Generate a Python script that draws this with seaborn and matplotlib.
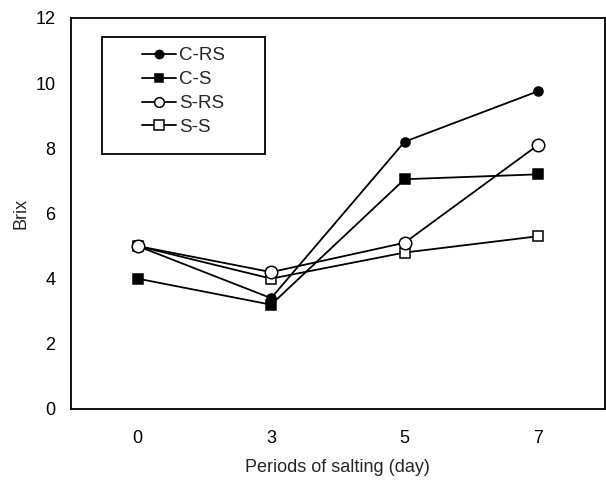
import matplotlib
matplotlib.use("Agg")
import matplotlib.pyplot as plt
from matplotlib.patches import Rectangle
import seaborn as sns
import pandas as pd
import numpy as np

days = ["0", "3", "5", "7"]
c_rs = [5.0, 3.4, 8.2, 9.75]
c_s = [4.0, 3.2, 7.05, 7.2]
s_rs = [5.0, 4.2, 5.1, 8.1]
s_s = [5.0, 4.0, 4.8, 5.3]
series_names = ["C-RS", "C-S", "S-RS", "S-S"]
y_ticks = [0, 2, 4, 6, 8, 10, 12]

sns.set_style("white")
plt.rcParams['font.family'] = ['Liberation Sans', 'DejaVu Sans']

fig = plt.figure(figsize=(6.06, 4.84), dpi=100)
ax = fig.add_axes([0.117, 0.155, 0.881, 0.808])

pos = np.arange(len(days))
styles = {
    "C-RS": dict(marker="o", ms=6.5, mfc="black", z=3),
    "C-S": dict(marker="s", ms=6.5, mfc="black", z=3),
    "S-RS": dict(marker="o", ms=9.0, mfc="white", z=5),
    "S-S": dict(marker="s", ms=7.8, mfc="white", z=4),
}
for name, vals in zip(series_names, [c_rs, c_s, s_rs, s_s]):
    df = pd.DataFrame({"x": pos, "y": vals})
    st = styles[name]
    sns.lineplot(data=df, x="x", y="y", ax=ax, color="black", lw=1.3,
                 marker=st["marker"], markersize=st["ms"],
                 markerfacecolor=st["mfc"], markeredgecolor="black",
                 markeredgewidth=1.1, label=name, zorder=st["z"])

ax.set_xlim(-0.5, 3.5)
ax.set_ylim(0, 12)
ax.set_xticks(pos)
ax.set_xticklabels(days)
ax.set_xticks([0.5, 1.5, 2.5], minor=True)
ax.set_yticks(y_ticks)
ax.tick_params(axis="both", which="both", direction="in", length=5, width=1,
               colors="black", labelsize=13)
ax.tick_params(axis="y", which="major", pad=11)
ax.tick_params(axis="x", which="major", pad=15)
for s in ax.spines.values():
    s.set_visible(True)
    s.set_color("black")
    s.set_linewidth(1.3)

ax.set_xlabel("Periods of salting (day)", fontsize=13, labelpad=9)
ax.set_ylabel("Brix", fontsize=13, labelpad=4)

leg = ax.legend(loc="upper left", bbox_to_anchor=(0.133, 0.925), frameon=False,
                fontsize=13.5, handlelength=1.8, numpoints=1, borderpad=0,
                labelspacing=0.36, handletextpad=0.2, borderaxespad=0)
for ln, sz in zip(leg.get_lines(), [6, 6, 7, 7]):
    ln.set_markersize(sz)
ax.add_patch(Rectangle((0.058, 0.652), 0.305, 0.299, transform=ax.transAxes,
                       facecolor="white", edgecolor="black", lw=1.3, zorder=6))
leg.set_zorder(7)

fig.savefig("out.png", dpi=100)
